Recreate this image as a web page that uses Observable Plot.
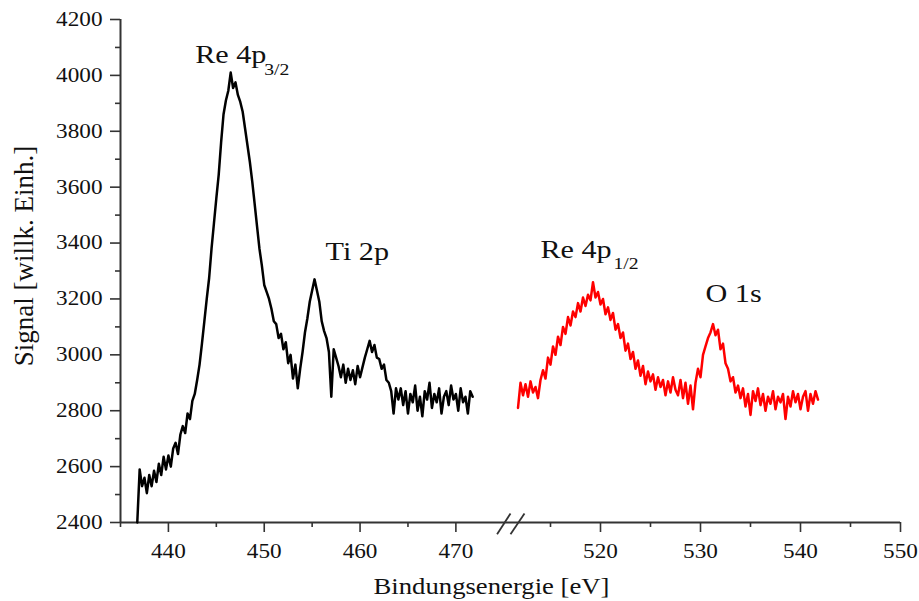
<!DOCTYPE html>
<html>
<head>
<meta charset="utf-8">
<script src="https://cdn.jsdelivr.net/npm/d3@7"></script>
<script src="https://cdn.jsdelivr.net/npm/@observablehq/plot@0.6"></script>
<style>
  html, body { margin: 0; padding: 0; background: #fff; }
  #chart svg { font-family: "Liberation Serif", "DejaVu Serif", serif; }
</style>
</head>
<body>
<div id="chart"></div>
<script>
// ---- Data ----
const blackStart = 436.75;   // eV, first sample of the black (Re 4p3/2 / Ti 2p) scan
const redStart = 511.75;     // eV, first sample of the red (Re 4p1/2 / O 1s) scan
const stepEV = 0.25;         // sampling step, eV

const blackSignal = [
  2400,
  2590, 2530, 2560, 2505,
  2570, 2530, 2585, 2545,
  2610, 2570, 2635, 2590,
  2640, 2600, 2665, 2685,
  2645, 2715, 2745, 2720,
  2790, 2770, 2835, 2860,
  2910, 2965, 3040, 3120,
  3200, 3275, 3380, 3470,
  3560, 3645, 3760, 3860,
  3910, 3945, 4010, 3955,
  3975, 3930, 3905, 3870,
  3810, 3750, 3690, 3620,
  3540, 3460, 3380, 3320,
  3250, 3225, 3200, 3165,
  3120, 3110, 3060, 3075,
  3020, 3045, 2970, 3000,
  2915, 2965, 2880, 2950,
  3010, 3080, 3130, 3190,
  3230, 3270, 3230, 3190,
  3120, 3085, 3060, 3010,
  2850, 3020, 2990, 2960,
  2920, 2965, 2900, 2950,
  2910, 2945, 2895, 2960,
  2920, 2955, 2990, 3020,
  3050, 3010, 3035, 2990,
  2985, 2950, 2965, 2910,
  2900, 2870, 2790, 2880,
  2840, 2880, 2820, 2870,
  2790, 2860, 2830, 2890,
  2800, 2850, 2780, 2870,
  2840, 2900, 2810, 2860,
  2830, 2880, 2790, 2850,
  2870, 2820, 2890, 2840,
  2860, 2800, 2880, 2830,
  2850, 2790, 2870, 2850
];

const redSignal = [
  2810,
  2900, 2855, 2895, 2850,
  2905, 2865, 2885, 2845,
  2910, 2945, 2915, 2990,
  2965, 3030, 3000, 3065,
  3035, 3100, 3075, 3135,
  3105, 3155, 3135, 3185,
  3155, 3205, 3175, 3215,
  3195, 3260, 3205, 3225,
  3180, 3200, 3145, 3170,
  3125, 3150, 3090, 3110,
  3060, 3080, 3015, 3040,
  2985, 3010, 2950, 2980,
  2925, 2960, 2895, 2940,
  2905, 2930, 2875, 2920,
  2885, 2910, 2855, 2905,
  2865, 2920, 2875, 2855,
  2910, 2845, 2900, 2825,
  2890, 2805, 2900, 2950,
  2920, 3000, 3030, 3060,
  3080, 3110, 3070, 3090,
  3020, 3040, 2970, 2950,
  2905, 2920, 2865, 2890,
  2845, 2880, 2815, 2860,
  2785, 2870, 2835, 2880,
  2820, 2860, 2800, 2850,
  2825, 2870, 2805, 2850,
  2830, 2860, 2770, 2850,
  2815, 2870, 2830, 2860,
  2805, 2850, 2870, 2800,
  2860, 2825, 2870, 2840
];

// axis (broken x axis: 435–475.7 | 511–550)
const xBreakDomain = [435, 475.7, 511, 550];
const xMajorTicks = [440, 450, 460, 470, 520, 530, 540, 550];
const xMinorTicks = [435, 445, 455, 465, 515, 525, 535, 545];
const yMajorTicks = [2400, 2600, 2800, 3000, 3200, 3400, 3600, 3800, 4000, 4200];
const yMinorTicks = [2500, 2700, 2900, 3100, 3300, 3500, 3700, 3900, 4100];
const breakMarks = [
  {x1: 474.3, y1: 2358, x2: 475.7, y2: 2432},
  {x1: 511.0, y1: 2358, x2: 512.4, y2: 2432}
];

// peak labels
const peakLabels = [
  {x: 442.8, y: 4046, text: "Re 4p", size: 26},
  {x: 450.0, y: 4000, text: "3/2", size: 17},
  {x: 456.4, y: 3338, text: "Ti 2p", size: 26},
  {x: 514.0, y: 3345, text: "Re 4p", size: 26},
  {x: 521.3, y: 3308, text: "1/2", size: 17},
  {x: 530.5, y: 3188, text: "O 1s", size: 26}
];

const xLabel = "Bindungsenergie [eV]";
const yLabel = "Signal [willk. Einh.]";

// ---- Build tables ----
const blackData = blackSignal.map((v, i) => ({e: blackStart + i * stepEV, s: v}));
const redData = redSignal.map((v, i) => ({e: redStart + i * stepEV, s: v}));

const axisColor = "#333";
const textColor = "#111";
const chart = Plot.plot({
  width: 919,
  height: 601,
  marginLeft: 120,
  marginRight: 19,
  marginTop: 19,
  marginBottom: 79,
  style: {fontFamily: "Liberation Serif", color: textColor, background: "#fff"},
  x: {type: "linear", domain: xBreakDomain, range: [120, 510, 510, 900]},
  y: {domain: [2400, 4200]},
  marks: [
    Plot.ruleY([2400], {stroke: axisColor, strokeWidth: 2}),
    Plot.ruleX([435], {stroke: axisColor, strokeWidth: 2}),
    Plot.axisX({ticks: xMajorTicks, tickSize: 10, tickPadding: 11, fontSize: 20, label: null, stroke: axisColor, strokeWidth: 1.6, tickFormat: d3.format("d")}),
    Plot.axisX({ticks: xMinorTicks, tickSize: 5, label: null, stroke: axisColor, strokeWidth: 1.6, tickFormat: () => ""}),
    Plot.axisY({ticks: yMajorTicks, tickSize: 10, tickPadding: 8, fontSize: 20, label: null, stroke: axisColor, strokeWidth: 1.6, tickFormat: d3.format("d")}),
    Plot.axisY({ticks: yMinorTicks, tickSize: 5, label: null, stroke: axisColor, strokeWidth: 1.6, tickFormat: () => ""}),
    Plot.link(breakMarks, {x1: "x1", y1: "y1", x2: "x2", y2: "y2", stroke: axisColor, strokeWidth: 1.8}),
    Plot.line(blackData, {x: "e", y: "s", stroke: "#000", strokeWidth: 2.5, curve: "linear"}),
    Plot.line(redData, {x: "e", y: "s", stroke: "#ff0000", strokeWidth: 2.5, curve: "linear"}),
    Plot.text(peakLabels, {x: "x", y: "y", text: "text", fontSize: "size", textAnchor: "start", lineAnchor: "bottom", fill: textColor}),
    Plot.text([xLabel], {frameAnchor: "bottom", dx: -19, dy: 71, textAnchor: "middle", lineAnchor: "bottom", fontSize: 23, fill: textColor}),
    Plot.text([yLabel], {frameAnchor: "left", dx: -96, dy: -15, rotate: -90, textAnchor: "middle", lineAnchor: "middle", fontSize: 27, fill: textColor})
  ]
});
document.getElementById("chart").appendChild(chart);

// the reference typography is horizontally widened; stretch horizontal text a little
const stretch = 1.16;
chart.querySelectorAll("text").forEach(t => {
  const tr = (t.getAttribute("transform") || "") + (t.parentNode.getAttribute("transform") || "");
  if (tr.includes("rotate")) return;
  const len = t.getComputedTextLength();
  if (len > 0) {
    t.setAttribute("textLength", (len * stretch).toFixed(1));
    t.setAttribute("lengthAdjust", "spacingAndGlyphs");
  }
});
</script>
</body>
</html>
